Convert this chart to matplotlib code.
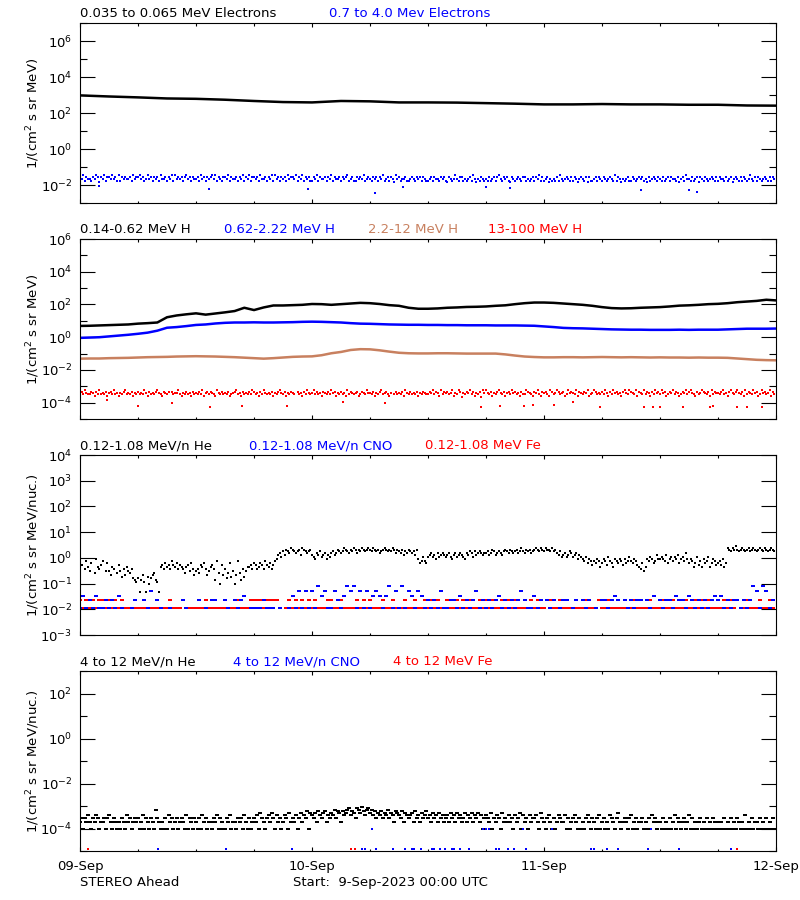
import numpy as np
import matplotlib
matplotlib.use("Agg")
import matplotlib.pyplot as plt
from matplotlib.ticker import FixedLocator, LogFormatterSciNotation, NullFormatter

plt.rcParams["font.family"] = ["DejaVu Sans"]
plt.rcParams["font.size"] = 9.5

BROWN = "#c8805f"

# time axis: hours since 9-Sep-2023 00:00 UTC, values are log10(flux)

# ---- panel 1: electrons
e_low_t = list(range(0, 73, 3))
e_low = [2.98, 2.92, 2.87, 2.81, 2.79, 2.74, 2.67, 2.61, 2.59, 2.67, 2.65, 2.59,
         2.59, 2.58, 2.55, 2.52, 2.48, 2.48, 2.50, 2.48, 2.48, 2.46, 2.46, 2.42, 2.41]
# 0.7-4.0 MeV, one code per 10 min: log10 = -1.65 + (code - 5) * 0.1
e_high_codes = (
    "657465546576365746657564746565564756"
    "675645756465647556465747565646756465"
    "564756465675746546657465564657465746"
    "656475564657475646564756657465746564"
    "465746556465746556465674564465657456"
    "546564657456465375645564456546564654"
    "456465546564365457546645456475354654"
    "546456467546564365456546645456465746"
    "456354546475456546465356546364456465"
    "465456547465354564465456564536456546"
    "546456465546356475546456365465456546"
    "465546456356546465457546465456546465"
)
e_high_out_t = [2.0, 13.3, 23.6, 30.5, 33.4, 42.0, 44.5, 58.0, 63.0, 63.8]
e_high_out = [-2.08, -2.2, -2.2, -2.43, -2.1, -2.12, -2.15, -2.3, -2.3, -2.4]

# ---- panel 2: protons, hourly
h_t = list(range(73))
h_low = [0.69, 0.70, 0.72, 0.74, 0.76, 0.78, 0.83, 0.86, 0.90, 1.22,
         1.33, 1.40, 1.46, 1.38, 1.45, 1.52, 1.60, 1.80, 1.66, 1.82,
         1.94, 1.94, 1.96, 1.98, 2.03, 2.02, 1.98, 2.02, 2.06, 2.10,
         2.08, 2.03, 1.96, 1.92, 1.80, 1.74, 1.74, 1.76, 1.80, 1.82,
         1.85, 1.86, 1.88, 1.92, 1.95, 2.02, 2.08, 2.12, 2.12, 2.10,
         2.06, 2.02, 1.98, 1.92, 1.84, 1.78, 1.76, 1.77, 1.80, 1.82,
         1.84, 1.88, 1.93, 1.95, 1.98, 2.02, 2.04, 2.08, 2.14, 2.18,
         2.22, 2.29, 2.25]
h_mid = [-0.04, -0.02, 0.00, 0.05, 0.10, 0.15, 0.21, 0.28, 0.40, 0.58,
         0.62, 0.68, 0.75, 0.78, 0.84, 0.88, 0.90, 0.90, 0.91, 0.90,
         0.90, 0.91, 0.92, 0.94, 0.95, 0.94, 0.92, 0.90, 0.86, 0.83,
         0.82, 0.80, 0.78, 0.77, 0.76, 0.76, 0.75, 0.75, 0.74, 0.74,
         0.73, 0.73, 0.73, 0.72, 0.72, 0.72, 0.71, 0.70, 0.66, 0.62,
         0.57, 0.55, 0.54, 0.52, 0.50, 0.48, 0.47, 0.46, 0.46, 0.45,
         0.45, 0.45, 0.46, 0.45, 0.46, 0.46, 0.46, 0.48, 0.50, 0.52,
         0.52, 0.52, 0.53]
h_high = [-1.31, -1.30, -1.30, -1.28, -1.27, -1.26, -1.24, -1.22, -1.21, -1.20,
          -1.18, -1.17, -1.16, -1.17, -1.18, -1.20, -1.22, -1.25, -1.28, -1.31,
          -1.28, -1.24, -1.20, -1.18, -1.17, -1.10, -0.98, -0.90, -0.78, -0.73,
          -0.74, -0.80, -0.88, -0.95, -0.98, -0.99, -0.99, -0.98, -0.98, -0.99,
          -1.00, -1.00, -1.00, -1.00, -1.05, -1.12, -1.18, -1.21, -1.23, -1.23,
          -1.22, -1.22, -1.23, -1.22, -1.21, -1.22, -1.23, -1.22, -1.23, -1.24,
          -1.23, -1.24, -1.24, -1.25, -1.24, -1.25, -1.25, -1.26, -1.30, -1.34,
          -1.38, -1.40, -1.41]
# 13-100 MeV, one code per 10 min: log10 = -3.5 + (code - 5) * 0.09
h_top_codes = (
    "675865576475856574675856465785657465"
    "756586475657865476570756685465756475"
    "657584675765486575657456785647565758"
    "756475865657465786574657650756475865"
    "685756476575867465756485765674576586"
    "657465785675460575657486575657465765"
    "576857648576756846587365768574657386"
    "865746578657467586756475587654768547"
    "675487568756745867658476576845687565"
    "758647586756478658765847658576475867"
    "586745768576457685786547568765748576"
    "657856478657865748576586745867568475"
)
h_top_out_t = [2.8, 6.0, 9.5, 13.4, 16.8, 21.4, 27.2, 31.5, 41.5, 43.4, 45.9, 46.9,
               49.0, 51.0, 53.8, 58.3, 59.3, 60.0, 62.4, 65.2, 65.5, 68.0, 69.0, 70.5]
h_top_out = [-3.83, -4.2, -4.05, -4.25, -4.2, -4.2, -3.95, -4.0, -4.25, -4.2, -4.2, -4.15,
             -4.15, -3.95, -4.25, -4.25, -4.25, -4.25, -4.25, -4.25, -4.2, -4.25, -4.25, -4.25]

# ---- panel 3: 0.12-1.08 MeV/n
# He, one letter per 10 min ('.' = none): log10 = -1.4 + 0.075 * (letter - 'a')
he_codes = (
    "fp.nromq.lsonpr.mqmkon.lpmjnkomlnihg"
    "ibhkgbjfiklhgbopnqopnrpoqnponlopmqnk"
    "mnlpoqnkmopnhrlfpknilqjmfkrlhnjmoopn"
    "qpnoqpnrpoqnprsuvtwuxwvyxwvwxuyxwvwx"
    "utsvuwtuvsutvwuvxwvwyxwvxwyxvxwyxwxy"
    "xwyxwxvwxyxwxwyxvxwvxuwvxwvwuxsqrtrq"
    "tuvtusvtuvutuvtsuvtuvutsvuwvtwuvwvuv"
    "vwuvxwuvwvuwxwvxwvwxvwywvxwxvwxyxwyx"
    "wyxxwywxvuwtuvtuwvtuvsutsrtqsrprqsro"
    "qsrptrqosrqsrpsqrtrqsrponqmosrtsqrus"
    "stsruqstrtsuqstrvsqsroqtprosqrtoqsrp"
    "qrpsoqyxwyxzxwxyxwxywxyxwxyxwyxwxyxw"
)
# CNO / Fe count levels per 20 min, 0 = nothing
cno_codes = (
    "131213112121310012002140210010002100"
    "020102200210212301111211101001314141"
    "415341142135451414134313514151431431"
    "212141122131212412121231212124211312"
    "021201220120212010221232021212202130"
    "212213221321212123231212212125415412"
)
fe_codes = (
    "212121221212121101111011101121110111"
    "111211111101121112222122220012121212"
    "121112211211112121211121121012112112"
    "121210211212121121212112121211112121"
    "102112111011121102112111110121111211"
    "121121112112121211112121211211121121"
)
low_levels = {"1": -1.95, "2": -1.64, "3": -1.48, "4": -1.29, "5": -1.10}

# ---- panel 4: 4-12 MeV/n He counts per 10 min, flux = count * 1e-4
he4_codes = (
    "231324213243122313421321213214231232"
    "312413213217321213142312312321413213"
    "213142312213241321132412213231421312"
    "324153213425314231243152324135243615"
    "435264356243547365264578465387596478"
    "574635463547354265436254345263425346"
    "342534253423425342534235243524352413"
    "432513243152324231423514231423342153"
    "213421312432241312342131213421321341"
    "231214321352123213412312231213142312"
    "213121312413212312413121231213121321"
    "212131213121321214121312213121312131"
)
cno4_t = [8.1, 15.1, 21.9, 29.2, 29.5, 30.6, 32.4, 33.6, 34.3, 34.6, 35.3, 36.4,
          36.6, 37.2, 37.8, 38.5, 38.7, 39.3, 40.2, 43.0, 43.3, 44.3, 44.9, 46.1,
          52.9, 53.2, 54.5, 55.7, 58.8, 62.0, 67.3,
          30.2, 41.7, 42.0, 42.3, 45.8, 48.8, 59.1]
cno4 = [-4.92] * 31 + [-4.0] * 7
fe4_t = [0.8, 28.0, 28.4, 68.0]
fe4 = [-4.92, -4.92, -4.92, -4.92]


def rect(w, h):
    return [(-w / 2, -h / 2), (w / 2, -h / 2), (w / 2, h / 2),
            (-w / 2, h / 2), (-w / 2, -h / 2)]


def dots(ax, t, logv, color, w=3.2, h=2.2):
    ax.plot(t, 10.0 ** np.asarray(logv, dtype=float), ls="none",
            marker=rect(w, h), ms=max(w, h) * 0.72, mew=0, color=color)


def digit_series(codes, center, step, per_hour):
    t = [i / per_hour for i, c in enumerate(codes) if c != "0"]
    v = [center + (int(c) - 5) * step for c in codes if c != "0"]
    return t, v


def level_series(codes, levels, per_hour=3):
    t = [i / per_hour for i, c in enumerate(codes) if c in levels]
    v = [levels[c] for c in codes if c in levels]
    return t, v


def setup(ax, ylim, majors, minors):
    ax.set_yscale("log")
    ax.set_ylim(*ylim)
    ax.set_xlim(0, 72)
    ax.yaxis.set_major_locator(FixedLocator(majors))
    ax.yaxis.set_minor_locator(FixedLocator(minors))
    ax.yaxis.set_major_formatter(LogFormatterSciNotation())
    ax.yaxis.set_minor_formatter(NullFormatter())
    ax.xaxis.set_major_locator(FixedLocator([0, 24, 48, 72]))
    ax.xaxis.set_minor_locator(FixedLocator(list(range(0, 73, 6))))
    ax.tick_params(which="both", direction="in", top=True, right=True, width=0.8)
    ax.tick_params(axis="y", which="major", length=10.8, pad=5.5)
    ax.tick_params(axis="y", which="minor", length=5.0)
    ax.tick_params(axis="x", which="major", length=3.2, pad=6.5)
    ax.tick_params(axis="x", which="minor", length=1.8)
    ax.tick_params(labelbottom=False)
    for s in ax.spines.values():
        s.set_linewidth(0.8)


def titles(ax, items):
    for x, text, color in items:
        ax.text(x, 1.033, text, color=color, transform=ax.transAxes,
                ha="left", va="baseline")


fig = plt.figure(figsize=(8, 9), dpi=100)
bottoms = [0.7744, 0.5344, 0.2944, 0.0544]
ax1, ax2, ax3, ax4 = [fig.add_axes([0.1, b, 0.87, 0.2]) for b in bottoms]

# panel 1
setup(ax1, (1e-3, 1e7), [1e-2, 1e0, 1e2, 1e4, 1e6], [1e-3, 1e-1, 1e1, 1e3, 1e5, 1e7])
ax1.plot(e_low_t, 10.0 ** np.array(e_low), color="black", lw=1.8)
t, v = digit_series(e_high_codes, -1.65, 0.1, 6)
dots(ax1, t, v, "blue", w=2.8)
dots(ax1, e_high_out_t, e_high_out, "blue", w=2.2)
titles(ax1, [(0.0, "0.035 to 0.065 MeV Electrons", "black"),
             (0.358, "0.7 to 4.0 Mev Electrons", "blue")])

# panel 2
setup(ax2, (1e-5, 1e6), [1e-4, 1e-2, 1e0, 1e2, 1e4, 1e6], [1e-5, 1e-3, 1e-1, 1e1, 1e3, 1e5])
ax2.plot(h_t, 10.0 ** np.array(h_low), color="black", lw=1.8)
ax2.plot(h_t, 10.0 ** np.array(h_mid), color="blue", lw=1.8)
ax2.plot(h_t, 10.0 ** np.array(h_high), color=BROWN, lw=1.8)
t, v = digit_series(h_top_codes, -3.5, 0.09, 6)
dots(ax2, t, v, "red", w=2.8)
dots(ax2, h_top_out_t, h_top_out, "red", w=2.2)
titles(ax2, [(0.0, "0.14-0.62 MeV H", "black"),
             (0.207, "0.62-2.22 MeV H", "blue"),
             (0.414, "2.2-12 MeV H", BROWN),
             (0.586, "13-100 MeV H", "red")])

# panel 3
setup(ax3, (1e-3, 1e4), [1e-3, 1e-2, 1e-1, 1e0, 1e1, 1e2, 1e3, 1e4], [])
t = [i / 6 for i, c in enumerate(he_codes) if c != "."]
v = [-1.4 + 0.075 * (ord(c) - ord("a")) for c in he_codes if c != "."]
dots(ax3, t, v, "black", w=2.2)
t, v = level_series(fe_codes, low_levels)
dots(ax3, t, v, "red", w=4.0)
t, v = level_series(cno_codes, low_levels)
dots(ax3, t, v, "blue", w=4.0)
titles(ax3, [(0.0, "0.12-1.08 MeV/n He", "black"),
             (0.243, "0.12-1.08 MeV/n CNO", "blue"),
             (0.496, "0.12-1.08 MeV Fe", "red")])

# panel 4
setup(ax4, (1e-5, 1e3), [1e-4, 1e-2, 1e0, 1e2], [1e-5, 1e-3, 1e-1, 1e1, 1e3])
t = [i / 6 for i, c in enumerate(he4_codes) if c != "0"]
v = [np.log10(int(c) * 1e-4) for c in he4_codes if c != "0"]
dots(ax4, t, v, "black", w=3.5)
dots(ax4, cno4_t, cno4, "blue", w=2.4)
dots(ax4, fe4_t, fe4, "red", w=2.4)
titles(ax4, [(0.0, "4 to 12 MeV/n He", "black"),
             (0.220, "4 to 12 MeV/n CNO", "blue"),
             (0.450, "4 to 12 MeV Fe", "red")])
ax4.tick_params(labelbottom=True)
ax4.set_xticklabels(["09-Sep", "10-Sep", "11-Sep", "12-Sep"])

ylab1 = "1/(cm$^2$ s sr MeV)"
ylab2 = "1/(cm$^2$ s sr MeV/nuc.)"
for ax, lab in [(ax1, ylab1), (ax2, ylab1), (ax3, ylab2), (ax4, ylab2)]:
    pos = ax.get_position()
    fig.text(0.041, pos.y0 + pos.height / 2, lab, rotation=90, ha="center", va="center")

fig.text(0.1, 0.0156, "STEREO Ahead", ha="left", va="baseline")
fig.text(0.366, 0.0156, "Start:  9-Sep-2023 00:00 UTC", ha="left", va="baseline")

fig.savefig("out.png", dpi=100)
